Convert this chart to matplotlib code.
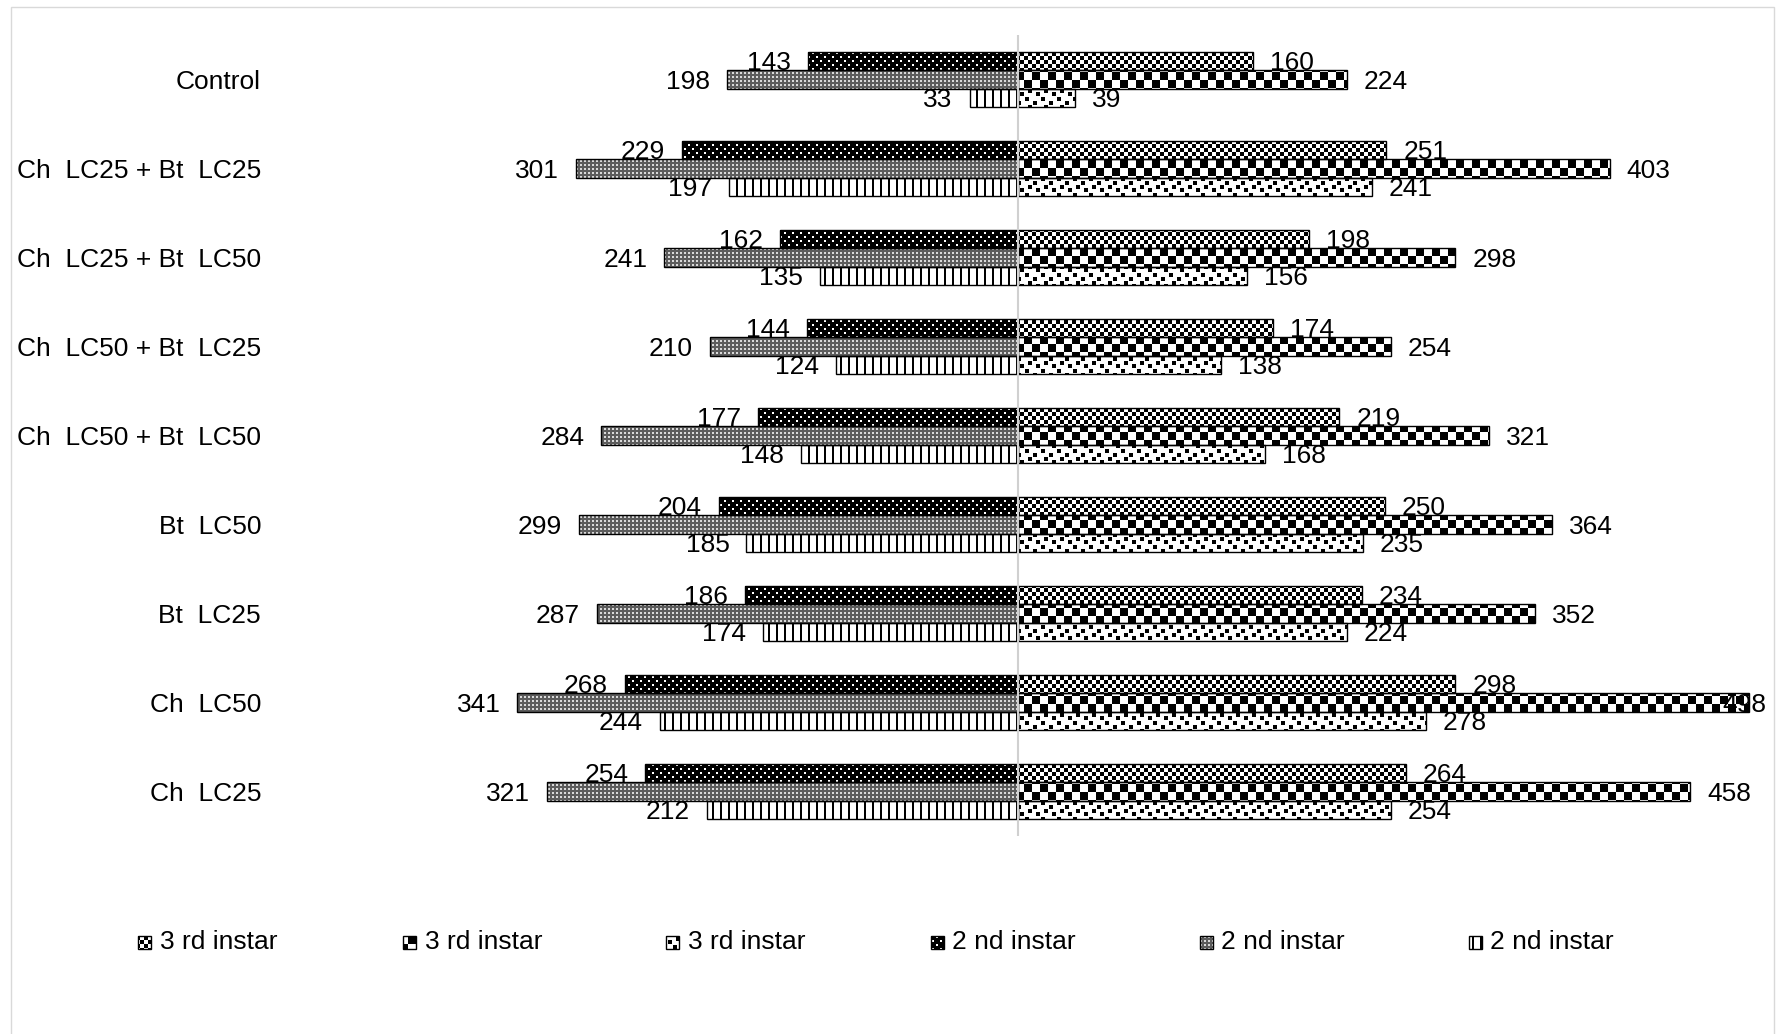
import numpy as np
import matplotlib
matplotlib.use("Agg")
import matplotlib.pyplot as plt
from matplotlib.path import Path
from matplotlib.patches import Rectangle
from matplotlib.transforms import IdentityTransform

# ---------------- data ----------------
categories = ["Control", "Ch  LC25 + Bt  LC25", "Ch  LC25 + Bt  LC50",
              "Ch  LC50 + Bt  LC25", "Ch  LC50 + Bt  LC50", "Bt  LC50",
              "Bt  LC25", "Ch  LC50", "Ch  LC25"]
# 2nd instar (left side)
second_a = [143, 229, 162, 144, 177, 204, 186, 268, 254]
second_b = [198, 301, 241, 210, 284, 299, 287, 341, 321]
second_c = [33, 197, 135, 124, 148, 185, 174, 244, 212]
# 3rd instar (right side)
third_a = [160, 251, 198, 174, 219, 250, 234, 298, 264]
third_b = [224, 403, 298, 254, 321, 364, 352, 498, 458]
third_c = [39, 241, 156, 138, 168, 235, 224, 278, 254]
legend_labels = ["3 rd instar", "3 rd instar", "3 rd instar",
                 "2 nd instar", "2 nd instar", "2 nd instar"]

# ---------------- style ----------------
FW, FH, DPI = 1780, 1034, 100
AX_L, AX_R, AX_T, AX_B = 284, 1752, 35, 836
FONT = "Liberation Sans"
FS = 19
plt.rcParams["font.family"] = [FONT, "DejaVu Sans"]


def texture(kind, h, w):
    i, j = np.mgrid[0:h, 0:w]
    if kind == "dots_black":
        t = np.zeros((h, w))
        t[((i % 8) < 2) & ((j % 8) < 2)] = 1
        t[(((i + 4) % 8) < 2) & (((j + 4) % 8) < 2)] = 1
    elif kind == "gray":
        t = np.full((h, w), 0.36)
        t[((i % 4) < 2) & ((j % 4) < 2)] = 0.85
    elif kind == "vlines":
        t = np.ones((h, w))
        t[(j % 8) < 2] = 0
    elif kind == "small_checker":
        t = ((i // 4) + (j // 4)) % 2
    elif kind == "big_checker":
        t = ((i // 8) + (j // 8)) % 2
    elif kind == "confetti":
        t = np.ones((h, w))
        ii, jj = i % 16, j % 16
        for (a, b) in [(1, 1), (5, 9), (9, 4), (12, 12)]:
            t[(ii >= a) & (ii < a + 4) & (jj >= b) & (jj < b + 4)] = 0
    return t.astype(float)


fig = plt.figure(figsize=(FW / DPI, FH / DPI), dpi=DPI)
fig.patch.set_facecolor("white")
ax = fig.add_axes([AX_L / FW, 1 - AX_B / FH, (AX_R - AX_L) / FW, (AX_B - AX_T) / FH])
ax.set_zorder(1)
ax.patch.set_facecolor("none")

n = len(categories)
y = np.arange(n)
H = 0.205
ax.set_xlim(-500, 500)
ax.set_ylim(n - 0.5, -0.5)

series = [
    (np.array(third_a), +1, -H, "small_checker"),
    (np.array(third_b), +1, 0.0, "big_checker"),
    (np.array(third_c), +1, +H, "confetti"),
    (-np.array(second_a), -1, -H, "dots_black"),
    (-np.array(second_b), -1, 0.0, "gray"),
    (-np.array(second_c), -1, +H, "vlines"),
]

LBL_DY = -1.5
fig.canvas.draw()
texts_right = []
for vals, side, off, kind in series:
    bars = ax.barh(y + off, vals, height=H, fill=False, edgecolor="black",
                   linewidth=1.0, zorder=3)
    paths = [p.get_path().transformed(p.get_patch_transform()) for p in bars]
    cp = Path.make_compound_path(*paths)
    im = fig.figimage(texture(kind, FH, FW), xo=0, yo=0, origin="upper",
                      cmap="gray", vmin=0, vmax=1, zorder=0.5)
    im.set_clip_path(cp, ax.transData)
    for yy, v in zip(y + off, vals):
        if side > 0:
            t = ax.annotate(str(abs(int(v))), (v, yy), xytext=(12.2, LBL_DY),
                            textcoords="offset points", ha="left", va="center",
                            fontsize=FS, zorder=5)
            texts_right.append(t)
        else:
            ax.annotate(str(abs(int(v))), (v, yy), xytext=(-12.2, LBL_DY),
                        textcoords="offset points", ha="right", va="center",
                        fontsize=FS, zorder=5)

ax.axvline(0, color="#d0d0d0", linewidth=1.5, zorder=4)

ax.set_yticks(y, categories, fontsize=FS)
ax.tick_params(axis="y", length=0, pad=16.5)
ax.xaxis.set_visible(False)
for s in ax.spines.values():
    s.set_visible(False)

# keep right labels inside the chart area
fig.canvas.draw()
r = fig.canvas.get_renderer()
LIMIT = 1766
for t in texts_right:
    bb = t.get_window_extent(r)
    if bb.x1 > LIMIT:
        dx = (bb.x1 - LIMIT) * 72 / DPI
        t.set_position((12.2 - dx, LBL_DY))

# ---------------- legend (manual) ----------------
leg_icon_x = [138, 403, 666, 931, 1200, 1469]
leg_text_x = [160, 425, 688, 952, 1221, 1490]
LEG_Y = FH - 942
ICON = 13
leg_kinds = [s[3] for s in series]
for ix, tx, lab, kind in zip(leg_icon_x, leg_text_x, legend_labels, leg_kinds):
    rect = Rectangle((ix, LEG_Y - ICON / 2), ICON, ICON, transform=IdentityTransform(),
                     fill=False, edgecolor="black", linewidth=1.0, zorder=3)
    fig.add_artist(rect)
    im = fig.figimage(texture(kind, FH, FW), xo=0, yo=0, origin="upper",
                      cmap="gray", vmin=0, vmax=1, zorder=0.5)
    im.set_clip_path(rect.get_path().transformed(rect.get_patch_transform()),
                     IdentityTransform())
    fig.text(tx / FW, LEG_Y / FH, lab, fontsize=FS, ha="left", va="center")

# outer chart border
fig.add_artist(Rectangle((11, -5), 1763, FH - 7 + 5, transform=IdentityTransform(),
                         fill=False, edgecolor="#d9d9d9", linewidth=1.0, zorder=2))

fig.savefig("out.png", dpi=DPI)
